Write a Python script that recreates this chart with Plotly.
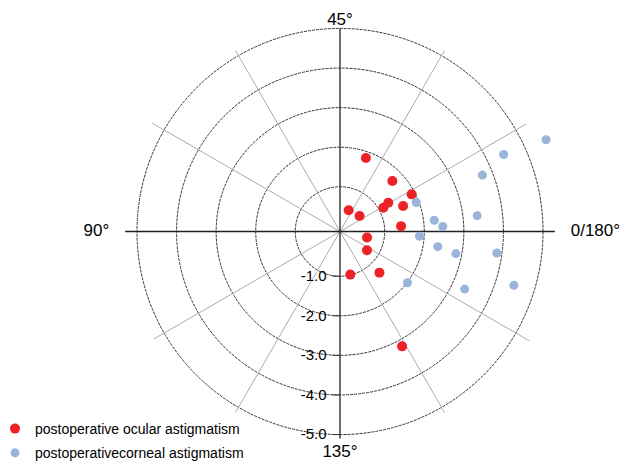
import plotly.graph_objects as go

# Double-angle plot: displayed angle = 2 * astigmatism axis
red_mag = [1.84, 1.71, 1.91, 1.29, 1.12, 1.59, 0.45, 0.50, 1.42, 0.57, 0.70, 1.31, 0.99, 3.17]
red_axis = [35.3, 22.0, 13.7, 15.4, 14.4, 11.0, 33.9, 19.2, 2.5, 173.7, 162.6, 156.9, 141.7, 149.2]

blue_mag = [5.57, 4.44, 3.74, 1.93, 3.36, 2.27, 2.47, 1.88, 2.37, 2.85, 3.87, 2.01, 3.34, 4.47]
blue_axis = [12.0, 12.6, 10.8, 10.4, 3.3, 3.4, 1.4, 178.3, 175.6, 174.6, 176.1, 161.4, 167.6, 171.4]

radial_ticks = [1, 2, 3, 4, 5]
radial_labels = ["-1.0", "-2.0", "-3.0", "-4.0", "-5.0"]

# light spokes every 30 degrees (display angle) and their reach
spoke_theta = [30, 60, 120, 150, 210, 240, 300, 330]
spoke_len = [5.3, 5.15, 5.15, 5.35, 5.3, 5.15, 5.15, 5.4]

# axis-direction labels (display angle, text)
dir_theta = [0, 90, 180, 270]
dir_text = ["0/180°", "45°", "90°", "135°"]
dir_r = [5.70, 4.98, 5.70, 5.25]
dir_pos = ["middle right", "top center", "middle left", "bottom center"]

R_MIN = -0.13
R_MAX = 5.72

red_theta = [2 * a for a in red_axis]
blue_theta = [2 * a for a in blue_axis]

fig = go.Figure()

for th, ln in zip(spoke_theta, spoke_len):
    fig.add_trace(go.Scatterpolar(
        r=[R_MIN, ln], theta=[th, th], mode="lines",
        line=dict(color="#ababab", width=1),
        showlegend=False, hoverinfo="skip"))

# heavy axis lines (horizontal and vertical through centre)
fig.add_trace(go.Scatterpolar(
    r=[5.30, R_MIN, 5.30], theta=[180, 0, 0], mode="lines",
    line=dict(color="#222", width=1.3),
    showlegend=False, hoverinfo="skip"))
fig.add_trace(go.Scatterpolar(
    r=[5.0, R_MIN, 5.10], theta=[90, 0, 270], mode="lines",
    line=dict(color="#222", width=1.3),
    showlegend=False, hoverinfo="skip"))

# direction labels
fig.add_trace(go.Scatterpolar(
    r=dir_r, theta=dir_theta, mode="text", text=dir_text,
    textposition=dir_pos, textfont=dict(size=17, color="black"),
    cliponaxis=False, showlegend=False, hoverinfo="skip"))

fig.add_trace(go.Scatterpolar(
    r=red_mag, theta=red_theta, mode="markers",
    name="postoperative ocular astigmatism", legendgroup="a",
    marker=dict(color="#EC2227", size=10), cliponaxis=False))
fig.add_trace(go.Scatterpolar(
    r=blue_mag, theta=blue_theta, mode="markers",
    name="postoperativecorneal astigmatism", legendgroup="b",
    marker=dict(color="#9AB4DC", size=9), cliponaxis=False))

fig.update_layout(
    width=622, height=463,
    margin=dict(l=0, r=0, t=0, b=0, autoexpand=False),
    paper_bgcolor="white",
    font=dict(family="Liberation Sans, Arial, sans-serif", color="black"),
    polar=dict(
        domain=dict(x=[108.5 / 622, 571.5 / 622], y=[0, 1]),
        bgcolor="rgba(0,0,0,0)",
        radialaxis=dict(
            range=[R_MIN, R_MAX], angle=270, tickangle=-90,
            tickvals=radial_ticks, ticktext=radial_labels,
            ticks="outside", ticklen=7, tickcolor="#333",
            showline=False, showgrid=True,
            gridcolor="#333", griddash="3px,1px", gridwidth=1,
            tickfont=dict(size=15, color="black")),
        angularaxis=dict(
            rotation=0, direction="counterclockwise",
            showticklabels=False, ticks="", showgrid=False,
            showline=False),
    ),
    legend=dict(x=-0.008, y=-0.013, xanchor="left", yanchor="bottom",
                font=dict(size=14), tracegroupgap=3,
                bgcolor="rgba(0,0,0,0)"),
)

fig.write_html("out.html", config={"displayModeBar": False},
               post_script="document.body.style.margin='0';")
